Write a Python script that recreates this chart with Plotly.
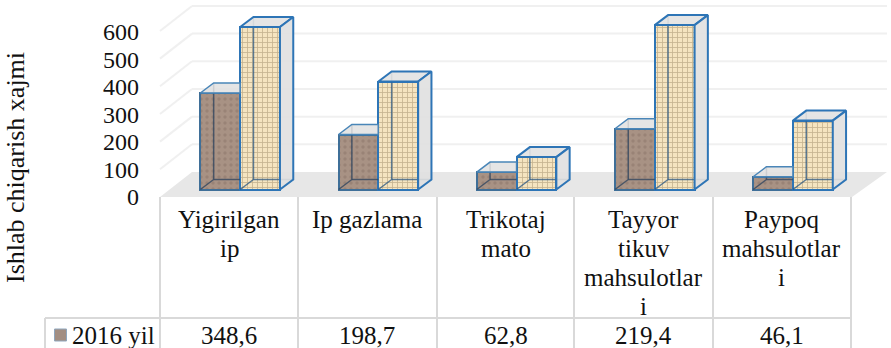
import plotly.graph_objects as go

categories = ["Yigirilgan<br>ip", "Ip gazlama", "Trikotaj<br>mato", "Tayyor<br>tikuv<br>mahsulotlar<br>i", "Paypoq<br>mahsulotlar<br>i"]
series_2016 = [348.6, 198.7, 62.8, 219.4, 46.1]
series_2016_labels = ["348,6", "198,7", "62,8", "219,4", "46,1"]
series_next = [587, 390, 117, 594, 249]
y_ticks = [0, 100, 200, 300, 400, 500, 600]
row_label = "2016 yil"
axis_title = "Ishlab chiqarish xajmi"

W, H = 891, 348
STEP = 138.2
SCALE = 0.2768
BASE_PX = 189.5
FONT = "Liberation Serif"
BLUE = "#2e75b6"
GRID = "#f0f0f0"
TABLE = "#d9d9d9"
TEXT_SIZE = 25
TICK_SIZE = 24

def xd(px):
    return (px - 160) / STEP - 0.5

def yd(px):
    return (BASE_PX - px) / SCALE

DX = 13.3 / STEP
DY = 10 / SCALE
BW = 39.8 / STEP
SHIFT = 0.08
idx = list(range(len(categories)))

fig = go.Figure()

# Front faces
fig.add_trace(go.Bar(
    x=[i + SHIFT - BW / 2 for i in idx], y=series_2016, width=BW, name=row_label,
    marker=dict(color="#a38e82", line=dict(color="#3f6f98", width=2),
                pattern=dict(shape=".", bgcolor="#a89284", fgcolor="#8a7468", size=6, solidity=0.25)),
    hoverinfo="skip"))
fig.add_trace(go.Bar(
    x=[i + SHIFT + BW / 2 for i in idx], y=series_next, width=BW, name="Series 2",
    marker=dict(color="#f4e2bd", line=dict(color=BLUE, width=2),
                pattern=dict(shape="+", bgcolor="#f5e4c0", fgcolor="#94825f", size=5, solidity=0.3)),
    hoverinfo="skip"))

def poly(xs, ys, fill, line=BLUE, width=2):
    fig.add_trace(go.Scatter(x=xs, y=ys, mode="lines", fill="toself", fillcolor=fill,
                             line=dict(color=line, width=width), hoverinfo="skip"))

def edge(xs, ys, color="rgba(40,85,130,0.75)", width=1.5):
    fig.add_trace(go.Scatter(x=xs, y=ys, mode="lines", line=dict(color=color, width=width), hoverinfo="skip"))

for i in idx:
    a, b, v1 = i + SHIFT - BW, i + SHIFT, series_2016[i]
    c, v2 = i + SHIFT + BW, series_next[i]
    # first series: inner edges and clipped top
    edge([a, a + DX, a + DX], [0, DY, v1 + DY], "rgba(50,70,95,0.8)")
    edge([a + DX, b], [DY, DY], "rgba(50,70,95,0.8)")
    poly([a, a + DX, b, b, a], [v1, v1 + DY, v1 + DY, v1, v1], "rgba(224,224,224,0.85)", "#4a86b8", 1.5)
    # second series: inner edges, top and side
    edge([b, b + DX, b + DX], [0, DY, v2 + DY])
    edge([b + DX, c + DX], [DY, DY])
    poly([b, b + DX, c + DX, c, b], [v2, v2 + DY, v2 + DY, v2, v2], "rgba(226,226,226,0.9)")
    poly([c, c + DX, c + DX, c, c], [0, DY, v2 + DY, v2, 0], "rgba(224,224,224,0.9)")

# Tick-label axis
fig.add_trace(go.Scatter(x=[None, None], y=[0, 600], yaxis="y2", mode="lines", hoverinfo="skip"))

# Swatch of the table row
fig.add_trace(go.Scatter(x=[xd(60.5)], y=[yd(335)], mode="markers", hoverinfo="skip",
                         marker=dict(symbol="square", size=12, color="#a38e82",
                                     line=dict(color="#8fa6bd", width=1))))

shapes = []
def line(x0, y0, x1, y1, color, width):
    shapes.append(dict(type="line", xref="x", yref="y", layer="below", x0=x0, y0=y0, x1=x1, y1=y1,
                       line=dict(color=color, width=width)))

# Floor
fl, fr, bl, br = xd(160), xd(852), xd(192), xd(887)
yf, yb = yd(197), yd(172)
shapes.append(dict(type="path", xref="x", yref="y", layer="below", fillcolor="#e7e7e7",
                   line=dict(width=0),
                   path=f"M {fl} {yf} L {bl} {yb} L {br} {yb} L {fr} {yf} Z"))
# Walls
for t in y_ticks[1:]:
    line(fl, yf + t, bl, yb + t, GRID, 2)
    line(bl, yb + t, br, yb + t, GRID, 2)

# Data table
for px in [160, 298, 437, 574, 713, 851]:
    line(xd(px), yd(197), xd(px), yd(348), TABLE, 2)
line(xd(45), yd(318), xd(851), yd(318), TABLE, 2)
line(xd(45), yd(318), xd(45), yd(348), TABLE, 2)

annotations = []
def text(x, y, s, anchor="center", yanchor="top", angle=0, size=TEXT_SIZE):
    annotations.append(dict(x=x, y=y, xref="x", yref="y", text=s, showarrow=False, xanchor=anchor,
                            yanchor=yanchor, textangle=angle, align="center",
                            font=dict(family=FONT, size=size, color="#111111")))

for i in idx:
    for k, part in enumerate(categories[i].split("<br>")):
        text(i, yd(219 + 29 * k), part, yanchor="middle")
    text(i, yd(335), series_2016_labels[i], yanchor="middle")
text(xd(70), yd(335), row_label, anchor="left", yanchor="middle")
text(xd(15), yd(168), axis_title, yanchor="middle", angle=-90, size=26)

top2 = 197 / 0.275
fig.update_layout(
    width=W, height=H, margin=dict(l=0, r=0, t=0, b=0), showlegend=False,
    paper_bgcolor="white", plot_bgcolor="white", bargap=0,
    xaxis=dict(range=[xd(0), xd(W)], domain=[0, 1], visible=False),
    yaxis=dict(range=[yd(H), yd(0)], visible=False),
    yaxis2=dict(range=[-(H - 197) / 0.275, top2], overlaying="y", anchor="free", position=139 / W,
                side="left", tickvals=y_ticks, showgrid=False, zeroline=False, showline=False,
                ticks="", tickfont=dict(family=FONT, size=TICK_SIZE, color="#111111")),
    shapes=shapes, annotations=annotations,
)
fig.write_html("out.html", config={"displayModeBar": False},
               post_script="document.body.style.margin='0';document.body.style.overflow='hidden';")
